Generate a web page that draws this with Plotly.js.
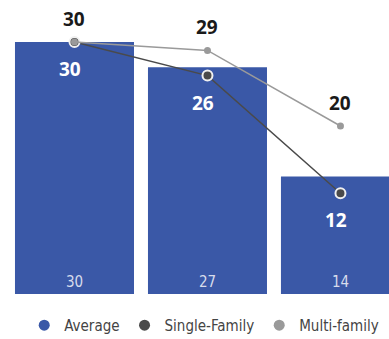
<!DOCTYPE html>
<html>
<head>
<meta charset="utf-8">
<script src="https://cdn.plot.ly/plotly-3.0.1.min.js"></script>
<style>html,body{margin:0;padding:0;background:#fff;}#chart{width:389px;height:339px;}</style>
</head>
<body>
<div id="chart"></div>
<script>
const categories = ["A", "B", "C"];
const averageValues = [30, 27, 14];
const singleFamilyValues = [30, 26, 12];
const multiFamilyValues = [30, 29, 20];
const seriesNames = ["Average", "Single-Family", "Multi-family"];

const BLUE = "#3a58a7";
const DARK = "#4a4a4a";
const LIGHT = "#9a9a9a";
const narrow = "DejaVu Sans Condensed, Liberation Sans Narrow, sans-serif";
const boldFont = "Open Sans, DejaVu Sans, sans-serif";

const traces = [
  {
    type: "bar", x: categories, y: averageValues, name: seriesNames[0],
    marker: {color: BLUE}, showlegend: false,
    text: averageValues.map(String), textposition: "inside", insidetextanchor: "start",
    textfont: {family: narrow, size: 15, color: "#d7dcec", stretch: "condensed"}, hoverinfo: "skip"
  },
  {
    type: "scatter", mode: "lines+markers", x: categories, y: singleFamilyValues, name: seriesNames[1],
    line: {color: DARK, width: 1.5}, showlegend: false,
    marker: {color: DARK, size: 10, line: {color: "#f0f0f0", width: 2}}, cliponaxis: false
  },
  {
    type: "scatter", mode: "lines+markers", x: categories, y: multiFamilyValues, name: seriesNames[2],
    line: {color: LIGHT, width: 1.5}, showlegend: false,
    marker: {color: LIGHT, size: 7}, cliponaxis: false
  }
];
[BLUE, DARK, LIGHT].forEach((c, i) => {
  traces.push({type: "scatter", mode: "markers", x: [null], y: [null], name: seriesNames[i],
    marker: {color: c, size: 11, symbol: "circle"}, showlegend: true});
});

const annotations = [];
categories.forEach((c, i) => {
  annotations.push({x: c, y: multiFamilyValues[i], text: "<b>" + multiFamilyValues[i] + "</b>",
    showarrow: false, yshift: 23, font: {family: boldFont, size: 19, color: "#1a1a1a"}});
  annotations.push({x: c, y: singleFamilyValues[i], text: "<b>" + singleFamilyValues[i] + "</b>",
    showarrow: false, yshift: -27, xshift: -4, font: {family: boldFont, size: 19, color: "#ffffff"}});
});

const layout = {
  width: 389, height: 339,
  margin: {l: 8, r: 0, t: 0, b: 45},
  paper_bgcolor: "#fff", plot_bgcolor: "#fff",
  bargap: 0.105,
  xaxis: {range: [-0.5, 2.365], visible: false, fixedrange: true},
  yaxis: {range: [0, 35], visible: false, fixedrange: true},
  showlegend: true,
  legend: {orientation: "h", xref: "container", x: 0.525, xanchor: "center",
    yref: "container", y: 0.04, yanchor: "middle",
    font: {family: narrow, size: 15, color: "#444", stretch: "condensed"}, itemwidth: 30, tracegroupgap: 0},
  annotations: annotations
};

Plotly.newPlot("chart", traces, layout, {displayModeBar: false, staticPlot: true});
</script>
</body>
</html>
